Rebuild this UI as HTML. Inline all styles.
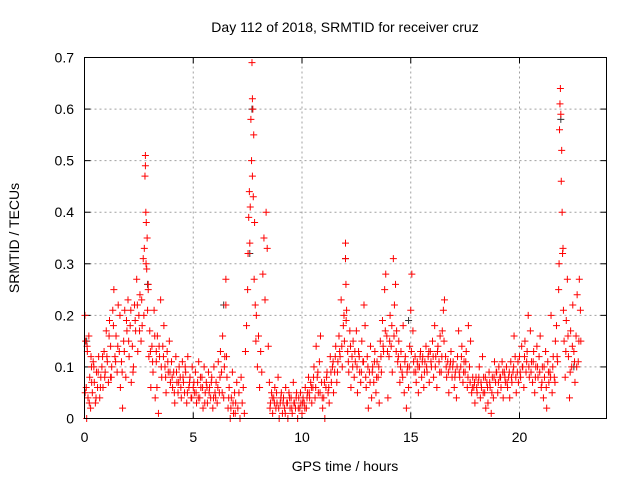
<!DOCTYPE html>
<html><head><meta charset="utf-8"><style>
body{margin:0;background:#fff}
svg{display:block;font-family:"Liberation Sans",sans-serif}
</style></head><body>
<svg id="chart" width="640" height="480" viewBox="0 0 640 480">
<rect width="640" height="480" fill="#fff"/>
<text x="345" y="32" font-size="14" text-anchor="middle">Day 112 of 2018, SRMTID for receiver cruz</text>
<g id="grid"></g>
<g id="ticks"></g>
<g id="points"></g>
<rect x="84.5" y="57.5" width="522" height="361" fill="none" stroke="#000" stroke-width="1"/>
<text x="345" y="471" font-size="14" text-anchor="middle">GPS time / hours</text>
<text transform="translate(19,238) rotate(-90)" font-size="14" text-anchor="middle">SRMTID / TECUs</text>
</svg>
<script>
const xTicks=[0,5,10,15,20];
const yTicks=[0,0.1,0.2,0.3,0.4,0.5,0.6,0.7];
const yTickLabels=["0","0.1","0.2","0.3","0.4","0.5","0.6","0.7"];
const times=[0.02,0.05,0.08,0.1,0.13,0.16,0.2,0.24,0.28,0.32,
0.36,0.4,0.45,0.5,0.55,0.6,0.65,0.7,0.75,0.8,
0.85,0.9,0.95,1.0,1.05,1.1,1.15,1.2,1.25,1.3,
1.35,1.4,1.45,1.5,1.55,1.6,1.65,1.7,1.75,1.8,
1.85,1.9,1.95,2.0,2.05,2.1,2.15,2.2,2.25,2.3,
2.35,2.4,2.45,2.5,2.55,2.6,2.65,2.7,2.75,2.78,
2.8,2.8,2.82,2.84,2.86,2.88,2.9,2.93,2.96,3.0,
3.05,3.1,3.15,3.2,3.25,3.3,3.35,3.4,3.45,3.5,
3.55,3.6,3.65,3.7,3.75,3.8,3.85,3.9,3.95,4.0,
4.05,4.1,4.15,4.2,4.25,4.3,4.35,4.4,4.45,4.5,
4.55,4.6,4.65,4.7,4.75,4.8,4.85,4.9,4.95,5.0,
5.05,5.1,5.15,5.2,5.25,5.3,5.35,5.4,5.45,5.5,
5.55,5.6,5.65,5.7,5.75,5.8,5.85,5.9,5.95,6.0,
6.05,6.1,6.15,6.2,6.25,6.3,6.35,6.4,6.45,6.5,
6.5,6.55,6.6,6.65,6.7,6.75,6.8,6.85,6.9,6.95,
7.0,7.05,7.1,7.15,7.2,7.25,7.3,7.35,7.4,7.45,
7.5,7.52,7.55,7.58,7.6,7.62,7.65,7.68,7.7,7.72,
7.72,7.74,7.76,7.78,7.8,7.82,7.85,7.88,7.9,7.95,
8.0,8.05,8.1,8.15,8.2,8.25,8.3,8.35,8.4,8.45,
8.5,8.55,8.6,8.65,8.7,8.75,8.8,8.85,8.9,8.95,
9.0,9.05,9.1,9.15,9.2,9.25,9.3,9.35,9.4,9.45,
9.5,9.55,9.6,9.65,9.7,9.75,9.8,9.85,9.9,9.95,
10.0,10.05,10.1,10.15,10.2,10.25,10.3,10.35,10.4,10.45,
10.5,10.55,10.6,10.65,10.7,10.75,10.8,10.85,10.9,10.95,
11.0,11.05,11.1,11.15,11.2,11.25,11.3,11.35,11.4,11.45,
11.5,11.55,11.6,11.65,11.7,11.75,11.8,11.85,11.9,11.95,
12.0,12.0,12.02,12.05,12.1,12.15,12.2,12.25,12.3,12.35,
12.4,12.45,12.5,12.55,12.6,12.65,12.7,12.75,12.8,12.85,
12.9,12.95,13.0,13.05,13.1,13.15,13.2,13.25,13.3,13.35,
13.4,13.45,13.5,13.55,13.6,13.65,13.7,13.75,13.8,13.85,
13.9,13.95,14.0,14.05,14.1,14.15,14.2,14.25,14.3,14.35,
14.4,14.45,14.5,14.55,14.6,14.65,14.7,14.75,14.8,14.85,
14.9,14.95,15.0,15.05,15.1,15.15,15.2,15.25,15.3,15.35,
15.4,15.45,15.5,15.55,15.6,15.65,15.7,15.75,15.8,15.85,
15.9,15.95,16.0,16.05,16.1,16.15,16.2,16.25,16.3,16.35,
16.4,16.45,16.5,16.55,16.6,16.65,16.7,16.75,16.8,16.85,
16.9,16.95,17.0,17.05,17.1,17.15,17.2,17.25,17.3,17.35,
17.4,17.45,17.5,17.55,17.6,17.65,17.7,17.75,17.8,17.85,
17.9,17.95,18.0,18.05,18.1,18.15,18.2,18.25,18.3,18.35,
18.4,18.45,18.5,18.55,18.6,18.65,18.7,18.75,18.8,18.85,
18.9,18.95,19.0,19.05,19.1,19.15,19.2,19.25,19.3,19.35,
19.4,19.45,19.5,19.55,19.6,19.65,19.7,19.75,19.8,19.85,
19.9,19.95,20.0,20.05,20.1,20.15,20.2,20.25,20.3,20.35,
20.4,20.45,20.5,20.55,20.6,20.65,20.7,20.75,20.8,20.85,
20.9,20.95,21.0,21.05,21.1,21.15,21.2,21.25,21.3,21.35,
21.4,21.45,21.5,21.55,21.6,21.65,21.7,21.75,21.8,21.82,
21.84,21.86,21.88,21.9,21.92,21.94,21.96,21.98,22.0,22.02,
22.05,22.1,22.15,22.2,22.25,22.3,22.35,22.4,22.45,22.5,
22.55,22.6,22.65,22.7,22.75,22.8,22.82,0.3,1.2,3.3];
const values=[0.20,0.15,0.06,0.00,0.13,0.04,0.16,0.08,0.02,0.10,
0.05,0.11,0.07,0.03,0.09,0.06,0.12,0.04,0.08,0.10,
0.06,0.13,0.09,0.17,0.11,0.07,0.19,0.14,0.10,0.21,
0.25,0.12,0.16,0.09,0.22,0.13,0.06,0.11,0.02,0.15,
0.21,0.08,0.17,0.23,0.12,0.18,0.07,0.14,0.10,0.22,
0.17,0.27,0.13,0.20,0.24,0.15,0.18,0.31,0.33,0.47,
0.51,0.49,0.40,0.38,0.29,0.35,0.21,0.26,0.12,0.17,
0.06,0.14,0.09,0.21,0.04,0.11,0.16,0.01,0.12,0.23,
0.08,0.14,0.18,0.10,0.05,0.13,0.09,0.15,0.07,0.11,
0.06,0.09,0.03,0.12,0.07,0.05,0.10,0.08,0.04,0.11,
0.07,0.05,0.09,0.03,0.12,0.06,0.08,0.04,0.10,0.06,
0.05,0.09,0.03,0.07,0.11,0.04,0.06,0.08,0.02,0.10,
0.05,0.07,0.03,0.09,0.06,0.04,0.08,0.02,0.10,0.05,
0.07,0.03,0.11,0.05,0.13,0.09,0.16,0.04,0.12,0.27,
0.22,0.08,0.02,0.06,0.00,0.04,0.09,0.01,0.05,0.03,
0.07,0.02,0.05,0.00,0.08,0.03,0.06,0.01,0.13,0.18,
0.25,0.32,0.39,0.44,0.34,0.41,0.58,0.50,0.69,0.62,
0.47,0.60,0.43,0.55,0.27,0.38,0.22,0.15,0.20,0.10,
0.16,0.06,0.13,0.09,0.28,0.35,0.23,0.40,0.33,0.14,
0.07,0.03,0.05,0.01,0.04,0.06,0.02,0.03,0.08,0.00,
0.03,0.05,0.01,0.04,0.02,0.06,0.03,0.00,0.05,0.02,
0.04,0.01,0.07,0.03,0.02,0.05,0.00,0.04,0.02,0.03,
0.01,0.04,0.03,0.06,0.02,0.05,0.08,0.04,0.07,0.03,
0.06,0.10,0.04,0.14,0.08,0.05,0.11,0.16,0.07,0.02,
0.04,0.00,0.06,0.09,0.05,0.03,0.12,0.07,0.10,0.05,
0.09,0.14,0.07,0.11,0.16,0.12,0.23,0.10,0.18,0.15,
0.34,0.31,0.26,0.21,0.13,0.09,0.17,0.06,0.12,0.15,
0.08,0.11,0.17,0.05,0.13,0.09,0.07,0.15,0.11,0.22,
0.18,0.06,0.12,0.02,0.09,0.14,0.04,0.10,0.07,0.13,
0.05,0.11,0.08,0.03,0.15,0.09,0.19,0.13,0.25,0.28,
0.16,0.04,0.12,0.20,0.14,0.09,0.31,0.22,0.26,0.17,
0.11,0.15,0.07,0.13,0.09,0.18,0.05,0.12,0.02,0.10,
0.06,0.14,0.21,0.28,0.17,0.09,0.12,0.07,0.11,0.05,
0.10,0.13,0.08,0.12,0.06,0.11,0.14,0.09,0.12,0.07,
0.13,0.10,0.15,0.08,0.18,0.12,0.06,0.14,0.11,0.16,
0.09,0.17,0.21,0.23,0.12,0.08,0.11,0.05,0.10,0.13,
0.08,0.11,0.06,0.09,0.04,0.12,0.17,0.08,0.10,0.14,
0.07,0.11,0.09,0.13,0.06,0.18,0.10,0.15,0.05,0.08,
0.06,0.03,0.08,0.05,0.07,0.10,0.04,0.06,0.12,0.08,
0.05,0.02,0.07,0.03,0.09,0.06,0.01,0.08,0.04,0.11,
0.07,0.09,0.05,0.10,0.08,0.06,0.11,0.04,0.09,0.07,
0.10,0.06,0.08,0.04,0.11,0.07,0.09,0.16,0.12,0.05,
0.09,0.07,0.12,0.08,0.14,0.10,0.06,0.15,0.09,0.13,
0.20,0.08,0.17,0.11,0.07,0.13,0.05,0.10,0.14,0.08,
0.12,0.16,0.06,0.10,0.04,0.08,0.13,0.02,0.11,0.07,
0.09,0.20,0.05,0.12,0.08,0.15,0.18,0.11,0.25,0.30,
0.56,0.61,0.64,0.59,0.46,0.52,0.40,0.32,0.33,0.21,
0.15,0.08,0.19,0.27,0.12,0.04,0.17,0.10,0.22,0.13,
0.07,0.16,0.24,0.11,0.27,0.21,0.15,0.12,0.08,0.13];
const times2=[0.03,0.12,0.22,0.33,0.43,0.53,0.63,0.73,0.83,0.93,
1.03,1.13,1.23,1.33,1.43,1.53,1.63,1.73,1.83,1.93,
2.03,2.13,2.23,2.33,2.43,2.53,2.63,2.73,2.83,2.93,
3.03,3.13,3.23,3.33,3.43,3.53,3.63,3.73,3.83,3.93,
4.03,4.13,4.23,4.33,4.43,4.53,4.63,4.73,4.83,4.93,
5.03,5.13,5.23,5.33,5.43,5.53,5.63,5.73,5.83,5.93,
6.03,6.13,6.23,6.33,6.43,6.53,6.63,6.73,6.83,6.93,
8.53,8.63,8.73,8.83,8.93,9.03,9.13,9.23,9.33,9.43,
9.53,9.63,9.73,9.83,9.93,10.03,10.13,10.23,10.33,10.43,
10.53,10.63,10.73,10.83,10.93,11.03,11.13,11.23,11.33,11.43,
11.53,11.63,11.73,11.83,11.93,12.03,12.13,12.23,12.33,12.43,
12.53,12.63,12.73,12.83,12.93,13.03,13.13,13.23,13.33,13.43,
13.53,13.63,13.73,13.83,13.93,14.03,14.13,14.23,14.33,14.43,
14.53,14.63,14.73,14.83,14.93,15.03,15.13,15.23,15.33,15.43,
15.53,15.63,15.73,15.83,15.93,16.03,16.13,16.23,16.33,16.43,
16.53,16.63,16.73,16.83,16.93,17.03,17.13,17.23,17.33,17.43,
17.53,17.63,17.73,17.83,17.93,18.03,18.13,18.23,18.33,18.43,
18.53,18.63,18.73,18.83,18.93,19.03,19.13,19.23,19.33,19.43,
19.53,19.63,19.73,19.83,19.93,20.03,20.13,20.23,20.33,20.43,
20.53,20.63,20.73,20.83,20.93,21.03,21.13,21.23,21.33,21.43,
21.53,21.63,21.73,22.13,22.23,22.33,22.43,22.53,22.63,22.73];
const values2=[0.05,0.14,0.03,0.07,0.10,0.04,0.09,0.06,0.12,0.08,
0.12,0.16,0.08,0.18,0.11,0.14,0.20,0.09,0.13,0.19,
0.15,0.21,0.09,0.19,0.22,0.17,0.23,0.20,0.30,0.25,
0.13,0.11,0.16,0.06,0.14,0.10,0.12,0.08,0.11,0.09,
0.08,0.05,0.09,0.07,0.06,0.08,0.10,0.05,0.07,0.04,
0.07,0.05,0.04,0.08,0.06,0.03,0.06,0.05,0.07,0.04,
0.04,0.06,0.08,0.05,0.10,0.12,0.04,0.02,0.03,0.01,
0.02,0.04,0.03,0.05,0.02,0.04,0.03,0.01,0.03,0.04,
0.02,0.03,0.04,0.02,0.05,0.03,0.02,0.04,0.05,0.06,
0.08,0.06,0.09,0.05,0.04,0.07,0.08,0.06,0.09,0.11,
0.12,0.09,0.13,0.14,0.20,0.19,0.11,0.14,0.10,0.13,
0.10,0.12,0.09,0.11,0.08,0.10,0.07,0.09,0.11,0.08,
0.10,0.12,0.14,0.17,0.13,0.15,0.18,0.16,0.13,0.12,
0.10,0.08,0.11,0.09,0.10,0.13,0.11,0.09,0.10,0.12,
0.11,0.09,0.10,0.13,0.11,0.12,0.10,0.13,0.09,0.12,
0.15,0.10,0.09,0.11,0.10,0.08,0.10,0.09,0.12,0.09,
0.11,0.08,0.07,0.06,0.07,0.06,0.08,0.07,0.05,0.08,
0.06,0.07,0.05,0.08,0.09,0.07,0.08,0.09,0.08,0.07,
0.09,0.08,0.10,0.08,0.11,0.09,0.10,0.12,0.11,0.10,
0.09,0.11,0.08,0.10,0.09,0.07,0.10,0.06,0.09,0.08,
0.10,0.07,0.12,0.13,0.16,0.09,0.14,0.11,0.10,0.15];
const darkTimes=[0.1,2.9,6.4,7.6,7.7,12.0,14.9,21.9,22.5];
const darkValues=[0.15,0.26,0.22,0.32,0.60,0.31,0.19,0.58,0.10];

const NS="http://www.w3.org/2000/svg";
const X0=84.5,X1=606.5,Y0=418.5,Y1=57.5,XMAX=24,YMAX=0.7;
function xs(v){return X0+(X1-X0)*v/XMAX;}
function ys(v){return Y0-(Y0-Y1)*v/YMAX;}
const grid=document.getElementById('grid'),ticks=document.getElementById('ticks'),pts=document.getElementById('points');
function line(p,x1,y1,x2,y2,st,dash){const l=document.createElementNS(NS,'line');
l.setAttribute('x1',x1);l.setAttribute('y1',y1);l.setAttribute('x2',x2);l.setAttribute('y2',y2);
l.setAttribute('stroke',st);if(dash)l.setAttribute('stroke-dasharray',dash);p.appendChild(l);return l;}
function txt(p,x,y,s,anchor){const t=document.createElementNS(NS,'text');
t.setAttribute('x',x);t.setAttribute('y',y);t.setAttribute('font-size','14');t.setAttribute('text-anchor',anchor);t.textContent=s;p.appendChild(t);return t;}
xTicks.forEach(v=>{const x=xs(v);
 if(v>0){const g=line(grid,x,Y0,x,Y1,'#a0a0a0','2,3');
 
 }
 line(ticks,x,Y0,x,Y0-6,'#000');line(ticks,x,Y1,x,Y1+6,'#000');
 const t=txt(ticks,x,442,String(v),'middle');
 
 });
yTicks.forEach((v,i)=>{const y=ys(v);
 if(v>0&&v<YMAX){const g=line(grid,X0,y,X1,y,'#a0a0a0','2,3');
 
 }
 line(ticks,X0,y,X0+6,y,'#000');line(ticks,X1,y,X1-6,y,'#000');
 const t=txt(ticks,74,y+5,yTickLabels[i],'end');
 
 });
function plus(x,y){return `M${x-3.5} ${y}h7M${x} ${y-3.5}v7`;}
let dd='';darkTimes.forEach((t,i)=>{dd+=plus(xs(t),ys(darkValues[i]));});
const pd=document.createElementNS(NS,'path');pd.setAttribute('d',dd);pd.setAttribute('stroke','#333');pd.setAttribute('fill','none');


pts.appendChild(pd);
let d='';times.forEach((t,i)=>{d+=plus(xs(t),ys(values[i]));});
times2.forEach((t,i)=>{d+=plus(xs(t),ys(values2[i]));});
const pr=document.createElementNS(NS,'path');pr.setAttribute('d',d);pr.setAttribute('stroke','#ff0000');pr.setAttribute('fill','none');


pts.appendChild(pr);
</script>
</body></html>
